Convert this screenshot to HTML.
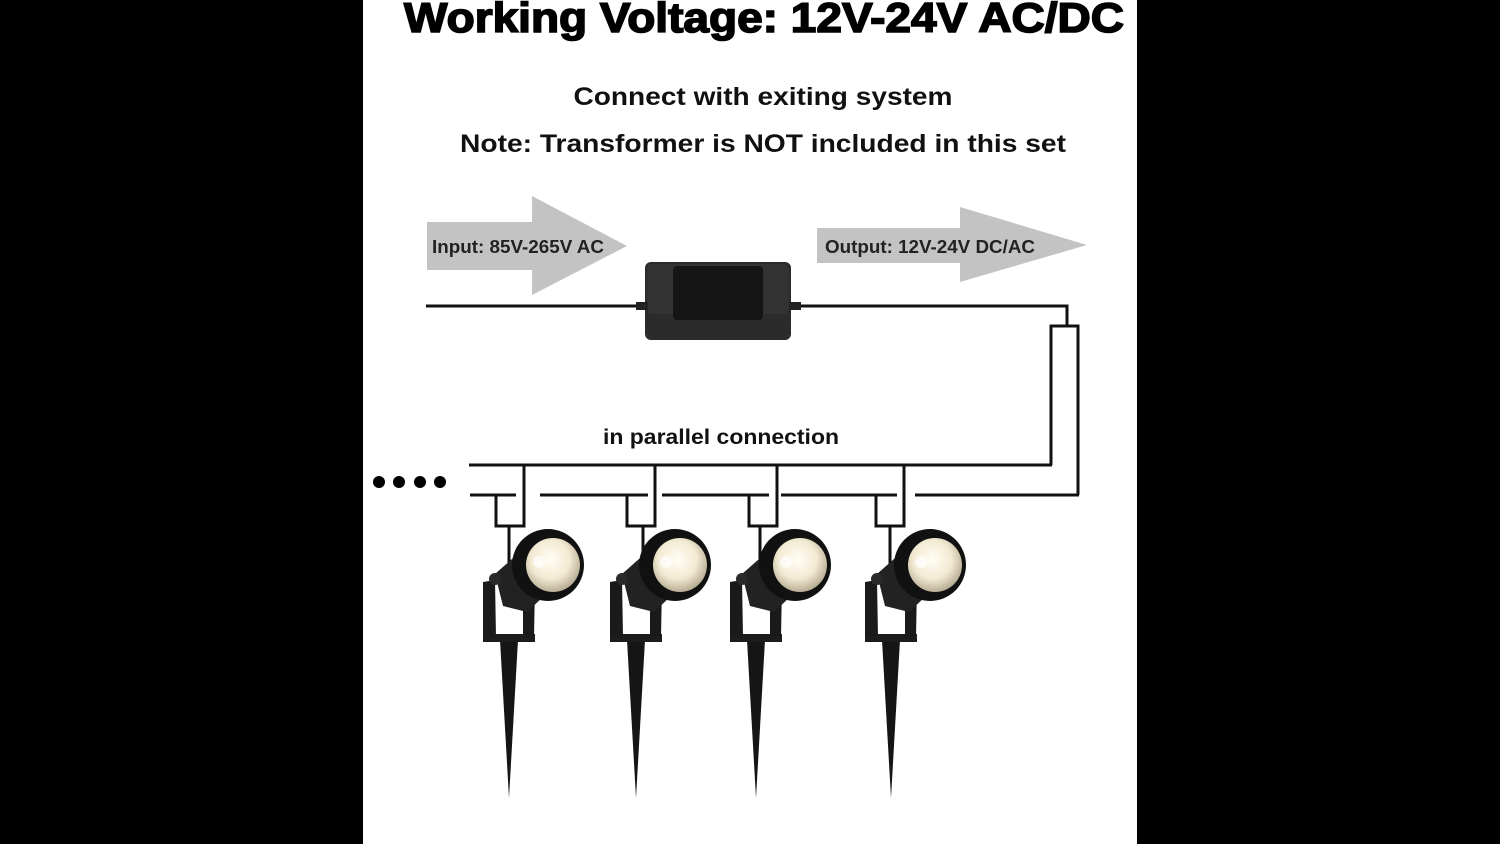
<!DOCTYPE html>
<html><head><meta charset="utf-8"><style>
html,body{margin:0;padding:0;background:#000;}
svg{display:block;}
text{font-family:"Liberation Sans",Arial,sans-serif;font-weight:bold;}
</style></head><body>
<svg width="1500" height="844" viewBox="0 0 1500 844" xmlns="http://www.w3.org/2000/svg">
<defs>
<radialGradient id="led" cx="0.45" cy="0.4" r="0.6">
<stop offset="0" stop-color="#fffdf5"/><stop offset="0.6" stop-color="#f3ead2"/><stop offset="1" stop-color="#b8ad95"/>
</radialGradient>
<g id="lamp">
<polygon points="-9,118 9,118 0,276" fill="#151515"/>
<rect x="-26" y="112" width="52" height="8" fill="#1c1c1c"/>
<polygon points="-26,60 -14,58 -13,115 -26,115" fill="#1a1a1a"/>
<polygon points="14,66 26,62 25,115 14,115" fill="#1a1a1a"/>
<polygon points="-14,52 20,22 50,60 18,90 -6,84" fill="#222"/>
<circle cx="-14" cy="57" r="6" fill="#2a2a2a"/>
<circle cx="39" cy="43" r="36" fill="#111"/>
<circle cx="44" cy="43" r="27" fill="url(#led)"/>
<circle cx="30" cy="40" r="6" fill="#fff" opacity="0.7"/>
</g>
</defs>
<rect x="0" y="0" width="1500" height="844" fill="#000"/>
<rect x="363" y="0" width="774" height="844" fill="#fff"/>

<text x="764" y="32" font-size="42" text-anchor="middle" textLength="720" lengthAdjust="spacingAndGlyphs" fill="#000" stroke="#000" stroke-width="1.6">Working Voltage: 12V-24V AC/DC</text>
<text x="763" y="105" font-size="25" text-anchor="middle" textLength="379" lengthAdjust="spacingAndGlyphs" fill="#111">Connect with exiting system</text>
<text x="763" y="152" font-size="25" text-anchor="middle" textLength="606" lengthAdjust="spacingAndGlyphs" fill="#111">Note: Transformer is NOT included in this set</text>

<polygon points="427,222 532,222 532,196 627,246 532,295 532,270 427,270" fill="#c3c3c3"/>
<text x="432" y="253" font-size="18" textLength="172" lengthAdjust="spacingAndGlyphs" fill="#222">Input: 85V-265V AC</text>
<polygon points="817,228 960,228 960,207 1087,245 960,282 960,263 817,263" fill="#c3c3c3"/>
<text x="825" y="253" font-size="18" textLength="210" lengthAdjust="spacingAndGlyphs" fill="#222">Output: 12V-24V DC/AC</text>

<g stroke="#111" stroke-width="3" fill="none">
<line x1="426" y1="306" x2="646" y2="306"/>
<polyline points="790,306 1067,306 1067,326"/>
<polyline points="1051,465 1051,326 1078,326 1078,495"/>
</g>
<rect x="645" y="262" width="146" height="78" rx="6" fill="#2b2b2b"/>
<rect x="647" y="264" width="142" height="50" rx="5" fill="#333"/>
<rect x="673" y="266" width="90" height="54" rx="4" fill="#151515"/>
<rect x="636" y="302" width="12" height="8" fill="#222"/>
<rect x="789" y="302" width="12" height="8" fill="#222"/>

<text x="721" y="444" font-size="21" text-anchor="middle" textLength="236" lengthAdjust="spacingAndGlyphs" fill="#111">in parallel connection</text>

<g fill="#000"><circle cx="379" cy="482" r="6"/><circle cx="399" cy="482" r="6"/><circle cx="420" cy="482" r="6"/><circle cx="440" cy="482" r="6"/></g>

<g stroke="#111" stroke-width="3" fill="none">
<line x1="469" y1="465" x2="1052" y2="465"/>
<line x1="470" y1="495" x2="516" y2="495"/>
<line x1="540" y1="495" x2="648" y2="495"/>
<line x1="662" y1="495" x2="769" y2="495"/>
<line x1="781" y1="495" x2="897" y2="495"/>
<line x1="915" y1="495" x2="1079" y2="495"/>
<polyline points="524,465 524,526 496,526 496,495"/>
<polyline points="655,465 655,526 627,526 627,495"/>
<polyline points="777,465 777,526 749,526 749,495"/>
<polyline points="904,465 904,526 876,526 876,495"/>
<line x1="509" y1="526" x2="509" y2="570"/>
<line x1="643" y1="526" x2="643" y2="570"/>
<line x1="760" y1="526" x2="760" y2="570"/>
<line x1="890" y1="526" x2="890" y2="570"/>
</g>

<use href="#lamp" transform="translate(509,522)"/>
<use href="#lamp" transform="translate(636,522)"/>
<use href="#lamp" transform="translate(756,522)"/>
<use href="#lamp" transform="translate(891,522)"/>
</svg>
</body></html>
